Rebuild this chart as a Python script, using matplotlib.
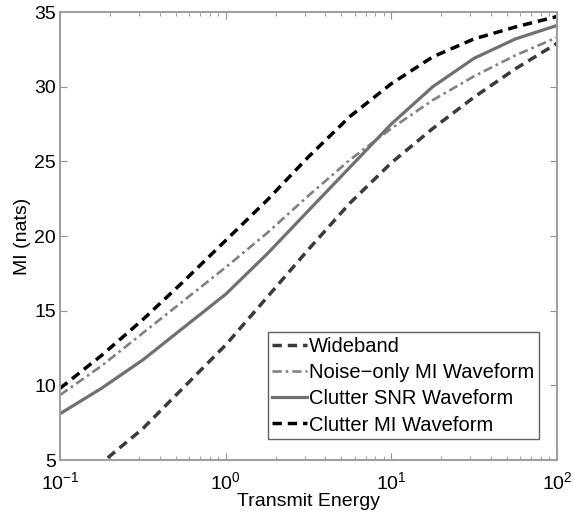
import matplotlib
matplotlib.use('Agg')
import matplotlib.pyplot as plt
import numpy as np

plt.rcParams['font.family'] = ['Liberation Sans', 'DejaVu Sans']
plt.rcParams['mathtext.default'] = 'regular'

## energie d'emission (axe x, log)
energie = [0.1, 0.178, 0.316, 0.562, 1.0, 1.78, 3.16, 5.62, 10.0, 17.8, 31.6, 56.2, 100.0]

## information mutuelle, en nats
mi_wideband = [2.6, 4.8, 7.1, 9.9, 12.7, 15.9, 19.1, 22.2, 24.9, 27.2, 29.3, 31.2, 32.9]
mi_noise_only = [9.35, 11.3, 13.5, 15.7, 17.9, 20.2, 22.7, 25.1, 27.2, 29.1, 30.7, 32.1, 33.3]
mi_clutter_snr = [8.1, 9.8, 11.7, 13.9, 16.1, 18.8, 21.7, 24.6, 27.5, 30.0, 31.9, 33.2, 34.1]
mi_clutter_mi = [9.8, 12.0, 14.4, 17.0, 19.7, 22.4, 25.3, 28.0, 30.2, 32.0, 33.2, 34.0, 34.7]

fig = plt.figure(figsize=(5.73, 5.16), dpi=100)
ax = fig.add_axes([0.1047, 0.1085, 0.8673, 0.8682])

ax.plot(energie, mi_wideband, color='#3a3a3a', lw=2.5, dashes=(2.7, 1.7), label='Wideband')
ax.plot(energie, mi_noise_only, color='#808080', lw=1.9, dashes=(3.5, 1.5, 1, 1.5), label='Noise\u2212only MI Waveform')
ax.plot(energie, mi_clutter_snr, color='#707070', lw=2.3, label='Clutter SNR Waveform')
ax.plot(energie, mi_clutter_mi, color='black', lw=2.5, dashes=(2.7, 1.7), label='Clutter MI Waveform')

ax.set_xscale('log')
ax.set_xlim(0.1, 100)
ax.set_ylim(5, 35)
ax.set_yticks([5, 10, 15, 20, 25, 30, 35])
ax.set_xlabel('Transmit Energy', fontsize=14, labelpad=0)
ax.set_ylabel('MI (nats)', fontsize=14, labelpad=2)

ax.tick_params(which='both', direction='in', top=True, right=True, labelsize=14,
               color='#909090')
ax.tick_params(axis='x', which='major', pad=8)
ax.tick_params(axis='y', which='major', pad=3)
ax.tick_params(which='major', length=5)
ax.tick_params(which='minor', length=3)
for s in ax.spines.values():
    s.set_color('#a0a0a0')
    s.set_linewidth(1.5)

leg = ax.legend(loc='lower right', bbox_to_anchor=(0.964, 0.047), borderaxespad=0,
                fontsize=14.5, handlelength=1.75, handletextpad=0.1, labelspacing=0.36,
                borderpad=0.22, fancybox=False, framealpha=1)
leg.get_frame().set_edgecolor('#606060')
leg.get_frame().set_linewidth(1.0)

fig.savefig('out.png', dpi=100)
